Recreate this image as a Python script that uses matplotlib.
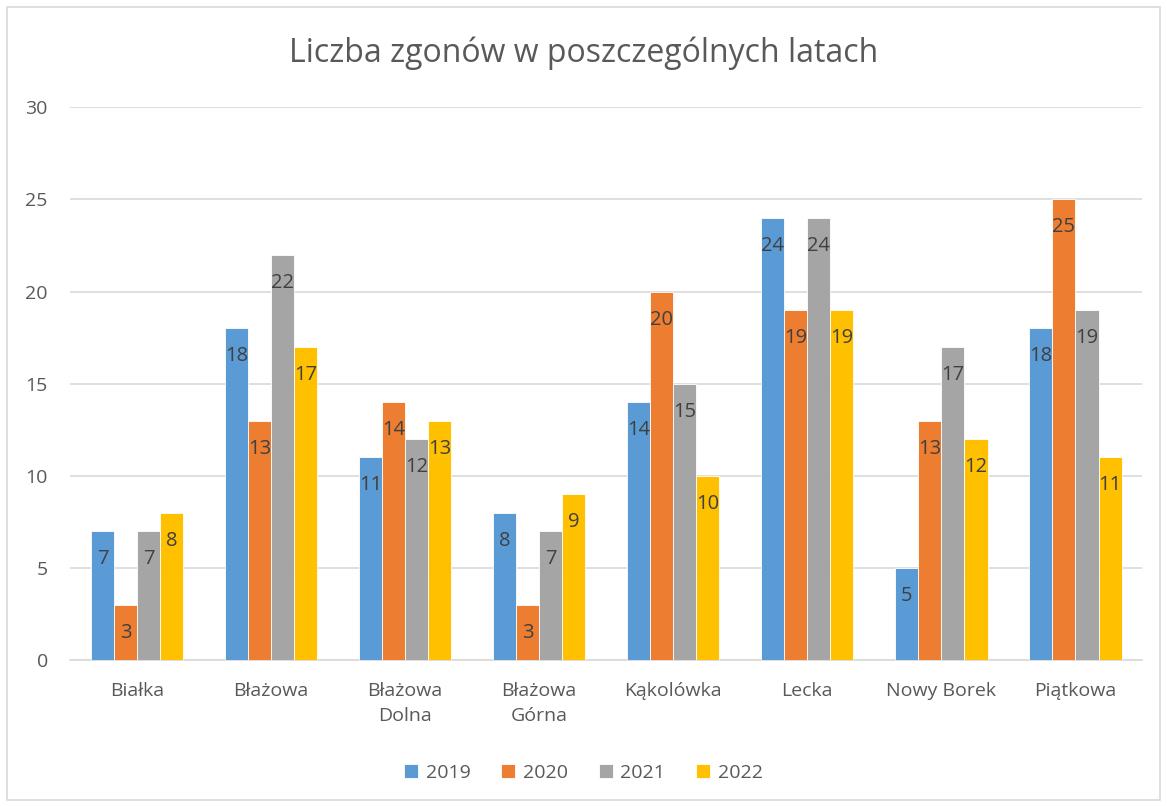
import numpy as np
import matplotlib.pyplot as plt
from matplotlib.patches import Rectangle

plt.rcParams['font.family'] = ['Open Sans', 'DejaVu Sans']

categories = ['Białka', 'Błażowa', 'Błażowa\nDolna', 'Błażowa\nGórna', 'Kąkolówka',
              'Lecka', 'Nowy Borek', 'Piątkowa']
years = ['2019', '2020', '2021', '2022']
v2019 = [7, 18, 11, 8, 14, 24, 5, 18]
v2020 = [3, 13, 14, 3, 20, 19, 13, 25]
v2021 = [7, 22, 12, 7, 15, 24, 17, 19]
v2022 = [8, 17, 13, 9, 10, 19, 12, 11]
series = [v2019, v2020, v2021, v2022]
colors = ['#5B9BD5', '#ED7D31', '#A5A5A5', '#FFC000']
txt = '#595959'

fig = plt.figure(figsize=(11.67, 8.06), dpi=100)
ax = fig.add_axes([0.060, 0.181, 0.919, 0.686])

# chart border
fig.patches.append(Rectangle((0.006, 0.007), 0.988, 0.984, transform=fig.transFigure,
                             fill=False, edgecolor='#D9D9D9', lw=1.2))

x = np.arange(len(categories))
w = 0.172
for i, (vals, c) in enumerate(zip(series, colors)):
    pos = x + (i - 1.5) * w
    bars = ax.bar(pos, vals, width=w, color=c, edgecolor='white', linewidth=0.6,
                  label=years[i], zorder=3)
    for b, v in zip(bars, vals):
        ax.annotate(str(v), (b.get_x() + b.get_width() / 2, v), xytext=(0, -28),
                    textcoords='offset pixels', ha='center', va='center',
                    fontsize=14.5, color='#404040', zorder=4)

ax.set_ylim(0, 30)
ax.set_xlim(-0.5, len(categories) - 0.5)
ax.set_yticks(range(0, 31, 5))
ax.set_xticks(x)
ax.set_xticklabels(categories, linespacing=1.45)
ax.grid(axis='y', color='#D9D9D9', lw=1.2, zorder=0)
for s in ['top', 'right', 'left']:
    ax.spines[s].set_visible(False)
ax.spines['bottom'].set_color('#D9D9D9')
ax.spines['bottom'].set_linewidth(1.2)
ax.tick_params(axis='both', length=0, labelsize=14, colors=txt)
ax.tick_params(axis='x', pad=16)
ax.tick_params(axis='y', pad=16)

fig.text(0.5, 0.934, 'Liczba zgonów w poszczególnych latach', ha='center', va='center',
         fontsize=23, color=txt)

fig.legend(loc='center', bbox_to_anchor=(0.5, 0.041), ncol=4, frameon=False,
           fontsize=14, labelcolor=txt, handlelength=0.7, handleheight=0.7,
           handletextpad=0.4, columnspacing=1.6)

fig.savefig('out.png', dpi=100)
